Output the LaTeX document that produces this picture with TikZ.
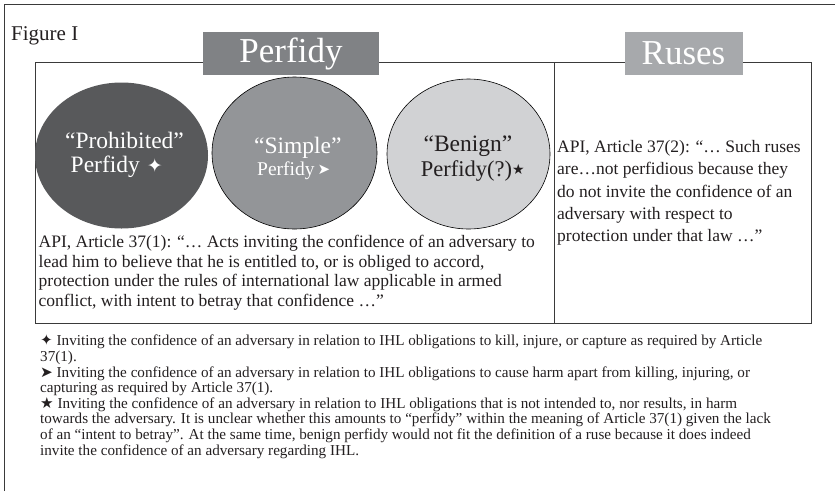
\documentclass[tikz,border=0pt]{standalone}
\usepackage{fontspec}
\setmainfont{Liberation Serif}
\newfontfamily\symf{DejaVu Sans}
\usetikzlibrary{shapes.geometric}
\definecolor{dkfill}{HTML}{58595B}
\definecolor{mdfill}{HTML}{939598}
\definecolor{ltfill}{HTML}{D1D2D4}
\definecolor{perfbox}{HTML}{808285}
\definecolor{rusebox}{HTML}{A7A9AC}
\definecolor{framec}{HTML}{3A3A3A}
\definecolor{inkc}{HTML}{231F20}
\tikzset{
  frameline/.style={draw=framec, line width=1.3pt},
  boxline/.style={draw=framec, line width=1pt},
  labelbox/.style={inner sep=0pt, minimum width=176pt, minimum height=43pt, text=white, font=\fontsize{35}{40}\selectfont},
  blob/.style={ellipse, inner sep=0pt},
  blobtxt/.style={inner sep=0pt, anchor=base, font=\fontsize{23.5}{26}\selectfont},
  bodytxt/.style={inner sep=0pt, anchor=base west, align=left, text=inkc},
}
\begin{document}
\begin{tikzpicture}[x=1pt,y=-1pt]
\useasboundingbox (0,0) rectangle (835,491);
% outer frame (top and left only)
\draw[frameline] (4.5,491) -- (4.5,4.5) -- (835,4.5);
\node[inner sep=0pt, anchor=base west, text=inkc, font=\fontsize{21}{25}\selectfont] (fig) at (11,40) {Figure I};
% inner box
\draw[boxline] (35,62) rectangle (811,323);
\draw[boxline] (554,62) -- (554,323);
% header labels
\node[labelbox, fill=perfbox] (perf) at (291,53.5) {Perfidy};
\node[labelbox, fill=rusebox, minimum width=118pt] (ruse) at (683.5,53.5) {Ruses};
% ellipses
\node[blob, fill=dkfill, minimum width=173pt, minimum height=146pt] (c1) at (121.5,155.5) {};
\node[blob, fill=mdfill, draw=black, line width=0.6pt, minimum width=165pt, minimum height=152pt] (c2) at (294.5,153) {};
\node[blob, fill=ltfill, draw=black, line width=0.6pt, minimum width=163pt, minimum height=150pt] (c3) at (468.5,154) {};
% ellipse texts
\node[blobtxt, text=white] (t1a) at (124.5,148.3) {“Prohibited”};
\node[blobtxt, text=white, anchor=base west] (t1b) at (70.5,172.3) {Perfidy\hspace{7pt}\raisebox{-0.5pt}{\symf\fontsize{19}{20}\selectfont ✦}};
\node[blobtxt, text=white] (t2a) at (297.8,153.3) {“Simple”};
\node[blobtxt, text=white, anchor=base west, font=\fontsize{19.5}{22}\selectfont] (t2b) at (257,175.7) {Perfidy\hspace{3pt}\raisebox{1pt}{\symf\fontsize{15}{16}\selectfont ➤}};
\node[blobtxt, text=inkc] (t3a) at (468,151.7) {“Benign”};
\node[blobtxt, text=inkc, anchor=base west, font=\fontsize{22.5}{25}\selectfont] (t3b) at (420.7,176) {Perfidy(?)\raisebox{2pt}{\symf\fontsize{14}{15}\selectfont ★}};
% article texts (anchor = baseline of last line)
\node[bodytxt, font=\fontsize{17.5}{19.5}\selectfont] (art1) at (38.5,306) {API, Article 37(1): “… Acts inviting the confidence of an adversary to\\ lead him to believe that he is entitled to, or is obliged to accord,\\ protection under the rules of international law applicable in armed\\ conflict, with intent to betray that confidence …”};
\node[bodytxt, font=\fontsize{17.5}{22.3}\selectfont] (art2) at (557,241.7) {API, Article 37(2): “… Such ruses\\ are…not perfidious because they\\ do not invite the confidence of an\\ adversary with respect to\\ protection under that law …”};
% notes
\node[bodytxt, font=\fontsize{15.15}{15.6}\selectfont] (notes) at (40,455) {{\symf ✦} Inviting the confidence of an adversary in relation to IHL obligations to kill, injure, or capture as required by Article\\ 37(1).\\ {\symf ➤} Inviting the confidence of an adversary in relation to IHL obligations to cause harm apart from killing, injuring, or\\ capturing as required by Article 37(1).\\ {\symf ★} Inviting the confidence of an adversary in relation to IHL obligations that is not intended to, nor results, in harm\\ towards the adversary. It is unclear whether this amounts to “perfidy” within the meaning of Article 37(1) given the lack\\ of an “intent to betray”. At the same time, benign perfidy would not fit the definition of a ruse because it does indeed\\ invite the confidence of an adversary regarding IHL.};
\end{tikzpicture}
\end{document}
